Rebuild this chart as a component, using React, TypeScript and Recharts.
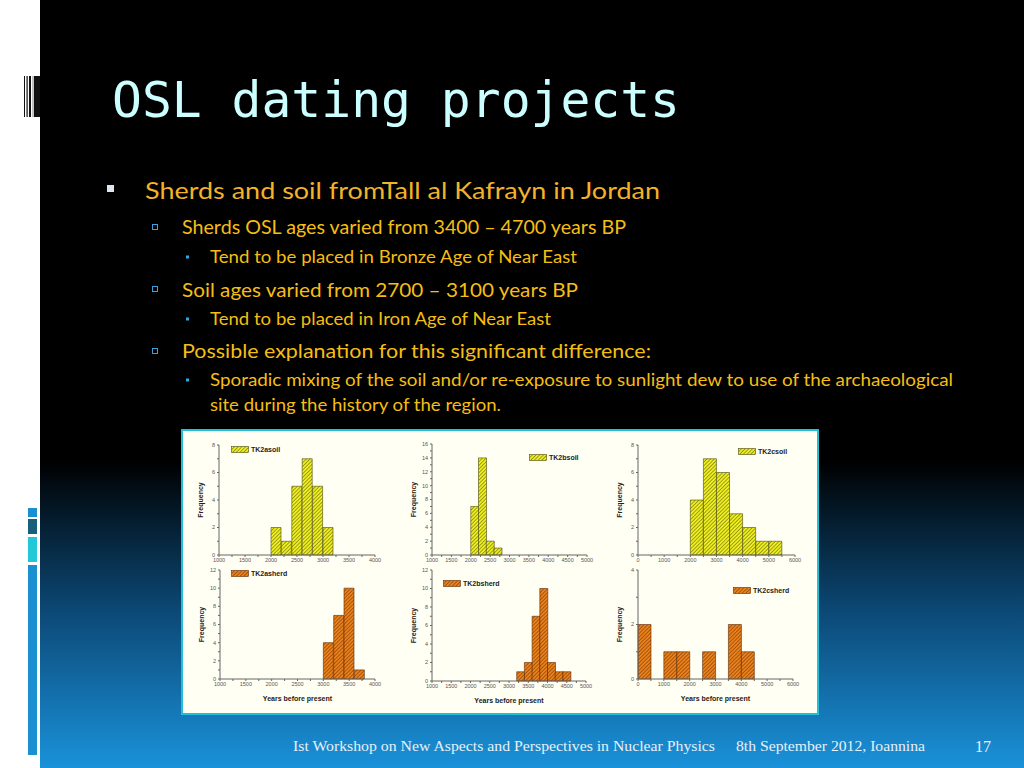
import React from 'react';
import { BarChart, Bar, XAxis, YAxis, Legend } from 'recharts';

// bin starts (years before present)
const bins200a = [1000, 1200, 1400, 1600, 1800, 2000, 2200, 2400, 2600, 2800, 3000, 3200, 3400, 3600, 3800];
const bins200b = [1000, 1200, 1400, 1600, 1800, 2000, 2200, 2400, 2600, 2800, 3000, 3200, 3400, 3600, 3800, 4000, 4200, 4400, 4600, 4800];
const bins500 = [0, 500, 1000, 1500, 2000, 2500, 3000, 3500, 4000, 4500, 5000, 5500];

// frequencies
const tk2aSoil = [0, 0, 0, 0, 0, 2, 1, 5, 7, 5, 2, 0, 0, 0, 0];
const tk2bSoil = [0, 0, 0, 0, 0, 7, 14, 2, 1, 0, 0, 0, 0, 0, 0, 0, 0, 0, 0, 0];
const tk2cSoil = [0, 0, 0, 0, 4, 7, 6, 3, 2, 1, 1, 0];
const tk2aSherd = [0, 0, 0, 0, 0, 0, 0, 0, 0, 0, 4, 7, 10, 1, 0];
const tk2bSherd = [0, 0, 0, 0, 0, 0, 0, 0, 0, 0, 0, 1, 2, 7, 10, 2, 1, 1, 0, 0];
const tk2cSherd = [2, 0, 1, 1, 0, 1, 0, 2, 1, 0, 0, 0];

// tick values
const xTicks1000to4000 = [1000, 1250, 1500, 1750, 2000, 2250, 2500, 2750, 3000, 3250, 3500, 3750, 4000];
const xTicks1000to5000 = [1000, 1250, 1500, 1750, 2000, 2250, 2500, 2750, 3000, 3250, 3500, 3750, 4000, 4250, 4500, 4750, 5000];
const xTicks0to6000 = [0, 500, 1000, 1500, 2000, 2500, 3000, 3500, 4000, 4500, 5000, 5500, 6000];
const yTicks8 = [0, 1, 2, 3, 4, 5, 6, 7, 8];
const yTicks16 = [0, 1, 2, 3, 4, 5, 6, 7, 8, 9, 10, 11, 12, 13, 14, 15, 16];
const yTicks12 = [0, 1, 2, 3, 4, 5, 6, 7, 8, 9, 10, 11, 12];
const yTicks4 = [0, 1, 2, 3, 4];

const SOIL = { pattern: 'hatchYellow', stroke: '#4a4a10' };
const SHERD = { pattern: 'hatchOrange', stroke: '#5a2a08' };

const panels = [
  { name: 'TK2asoil', bins: bins200a, counts: tk2aSoil, xDomain: [1000, 4000], xTicks: xTicks1000to4000, xStep: 500, yMax: 8, yTicks: yTicks8, style: SOIL, plot: [219, 445, 375, 555], legend: [231, 446], bottom: false },
  { name: 'TK2bsoil', bins: bins200b, counts: tk2bSoil, xDomain: [1000, 5000], xTicks: xTicks1000to5000, xStep: 500, yMax: 16, yTicks: yTicks16, style: SOIL, plot: [432, 444, 587, 555], legend: [529, 454], bottom: false },
  { name: 'TK2csoil', bins: bins500, counts: tk2cSoil, xDomain: [0, 6000], xTicks: xTicks0to6000, xStep: 1000, yMax: 8, yTicks: yTicks8, style: SOIL, plot: [638, 445, 795, 555], legend: [738, 448], bottom: false },
  { name: 'TK2asherd', bins: bins200a, counts: tk2aSherd, xDomain: [1000, 4000], xTicks: xTicks1000to4000, xStep: 500, yMax: 12, yTicks: yTicks12, style: SHERD, plot: [220, 570, 375, 679], legend: [231, 570], bottom: true },
  { name: 'TK2bsherd', bins: bins200b, counts: tk2bSherd, xDomain: [1000, 5000], xTicks: xTicks1000to5000, xStep: 500, yMax: 12, yTicks: yTicks12, style: SHERD, plot: [432, 570, 586, 681], legend: [443, 580], bottom: true },
  { name: 'TK2csherd', bins: bins500, counts: tk2cSherd, xDomain: [0, 6000], xTicks: xTicks0to6000, xStep: 1000, yMax: 4, yTicks: yTicks4, style: SHERD, plot: [638, 570, 793, 679], legend: [733, 587], bottom: true },
];

const AXIS_FONT = 'Liberation Sans, Arial, sans-serif';

function Histogram({ p }: { p: any }) {
  const axisH = p.bottom ? 26 : 14;
  const x = p.plot[0] - 33;
  const y = p.plot[1] - 6;
  const w = p.plot[2] + 14 - x;
  const h = p.plot[3] + axisH - y;
  const data = p.bins.map((b: number, i: number) => ({ bin: String(b), start: b, count: p.counts[i] }));
  return (
    <div style={{ position: 'absolute', left: x, top: y }}>
      <BarChart width={w} height={h} data={data} margin={{ top: 6, right: 14, left: 4, bottom: 0 }} barCategoryGap={0} barGap={0}>
        <XAxis
          xAxisId="num"
          dataKey="start"
          type="number"
          domain={p.xDomain}
          ticks={p.xTicks}
          interval={0}
          allowDataOverflow
          height={axisH}
          tickSize={2}
          tickMargin={1}
          stroke="#666"
          tick={{ fontSize: 5.5, fill: '#555', fontFamily: AXIS_FONT }}
          tickFormatter={(v: number) => (v % p.xStep === 0 ? String(v) : '')}
          label={p.bottom ? { value: 'Years before present', position: 'insideBottom', offset: 4, style: { fontSize: 7, fontWeight: 'bold', fill: '#222', fontFamily: AXIS_FONT } } : undefined}
        />
        <XAxis xAxisId="bins" dataKey="bin" hide height={0} />
        <YAxis
          domain={[0, p.yMax]}
          ticks={p.yTicks}
          interval={0}
          width={29}
          tickSize={2}
          tickMargin={2}
          stroke="#666"
          tick={{ fontSize: 5.5, fill: '#555', fontFamily: AXIS_FONT }}
          tickFormatter={(v: number) => (v % 2 === 0 ? String(v) : '')}
          label={{ value: 'Frequency', angle: -90, position: 'insideLeft', offset: 11, style: { textAnchor: 'middle', fontSize: 7, fontWeight: 'bold', fill: '#222', fontFamily: AXIS_FONT } }}
        />
        <Legend
          layout="vertical"
          verticalAlign="middle"
          align="center"
          wrapperStyle={{ left: p.legend[0] - x, top: p.legend[1] - y, width: 'auto', height: 'auto', lineHeight: 1 }}
          content={(props: any) => (
            <div style={{ display: 'flex', alignItems: 'center' }}>
              <svg width={18} height={7} style={{ display: 'block' }}>
                <rect x={0.5} y={0.5} width={17} height={6} fill={`url(#${p.style.pattern})`} stroke={p.style.stroke} strokeWidth={0.6} />
              </svg>
              <span style={{ marginLeft: 2, fontSize: 7, fontWeight: 'bold', color: '#222', fontFamily: AXIS_FONT }}>
                {props.payload && props.payload[0] ? props.payload[0].value : p.name}
              </span>
            </div>
          )}
        />
        <Bar xAxisId="bins" dataKey="count" name={p.name} fill={`url(#${p.style.pattern})`} stroke={p.style.stroke} strokeWidth={0.6} isAnimationActive={false} />
      </BarChart>
    </div>
  );
}

const TEXT = 'Lato, "Noto Sans", sans-serif';
const gold = '#f5be14';

export default function App() {
  return (
    <div style={{ position: 'absolute', left: 0, top: 0, width: 1024, height: 768, overflow: 'hidden', background: '#fff' }}>
      <svg width={1024} height={768} style={{ position: 'absolute', left: 0, top: 0 }}>
        <defs>
          <linearGradient id="bg" x1="0" y1="0" x2="0" y2="1">
            <stop offset="0" stopColor="#000" />
            <stop offset="0.6" stopColor="#000" />
            <stop offset="0.8" stopColor="#0c4a78" />
            <stop offset="1" stopColor="#1a92da" />
          </linearGradient>
          <pattern id="hatchYellow" width={2.6} height={2.6} patternUnits="userSpaceOnUse" patternTransform="rotate(45)">
            <rect width={2.6} height={2.6} fill="#eeee22" />
            <rect width={0.8} height={2.6} fill="#8c8c10" />
          </pattern>
          <pattern id="hatchOrange" width={2.6} height={2.6} patternUnits="userSpaceOnUse" patternTransform="rotate(45)">
            <rect width={2.6} height={2.6} fill="#e8821c" />
            <rect width={0.8} height={2.6} fill="#a04a08" />
          </pattern>
        </defs>
        <rect x={40} y={0} width={984} height={768} fill="url(#bg)" />
        {/* barcode marks by title */}
        <rect x={24} y={76} width={1} height={41} fill="#111" />
        <rect x={26.5} y={76} width={1.2} height={41} fill="#111" />
        <rect x={29} y={76} width={2} height={41} fill="#111" />
        <rect x={32.5} y={76} width={1} height={41} fill="#888" />
        <rect x={34} y={76} width={6} height={41} fill="#111" />
        {/* side bars */}
        <rect x={28} y={508} width={9} height={9} fill="#1a8fd0" />
        <rect x={28} y={519} width={9} height={15} fill="#1a5f7a" />
        <rect x={28} y={537} width={9} height={25} fill="#22c8d8" />
        <rect x={28} y={565} width={9} height={190} fill="#1a90d0" />

        <text x={112} y={117} fontFamily='"DejaVu Sans Mono", monospace' fontSize={50} fill="#ccffff" textLength={568} lengthAdjust="spacingAndGlyphs">OSL dating projects</text>

        <rect x={107} y={185} width={7} height={7} fill="#dde6ee" />
        <text x={145} y={199} fontFamily={TEXT} fontSize={24} fill="#f2b22a" textLength={515} lengthAdjust="spacingAndGlyphs">Sherds and soil fromTall al Kafrayn in Jordan</text>

        <rect x={152.5} y={224.5} width={5} height={5} fill="none" stroke="#3aa0e0" strokeWidth={1} />
        <text x={182} y={234} fontFamily={TEXT} fontSize={20} fill={gold} textLength={444} lengthAdjust="spacingAndGlyphs">Sherds OSL ages varied from 3400 – 4700 years BP</text>
        <rect x={186} y={255.5} width={3} height={3} fill="#30a8e0" />
        <text x={210} y={263} fontFamily={TEXT} fontSize={17} fill={gold} textLength={367} lengthAdjust="spacingAndGlyphs">Tend to be placed in Bronze Age of Near East</text>

        <rect x={152.5} y={286.5} width={5} height={5} fill="none" stroke="#3aa0e0" strokeWidth={1} />
        <text x={182} y={297} fontFamily={TEXT} fontSize={20} fill={gold} textLength={396} lengthAdjust="spacingAndGlyphs">Soil ages varied from 2700 – 3100 years BP</text>
        <rect x={186} y={317.5} width={3} height={3} fill="#30a8e0" />
        <text x={210} y={325} fontFamily={TEXT} fontSize={17} fill={gold} textLength={341} lengthAdjust="spacingAndGlyphs">Tend to be placed in Iron Age of Near East</text>

        <rect x={152.5} y={348.5} width={5} height={5} fill="none" stroke="#3aa0e0" strokeWidth={1} />
        <text x={182} y={358} fontFamily={TEXT} fontSize={20} fill={gold} textLength={469} lengthAdjust="spacingAndGlyphs">Possible explanation for this significant difference:</text>
        <rect x={186} y={378.5} width={3} height={3} fill="#30a8e0" />
        <text x={210} y={386} fontFamily={TEXT} fontSize={17} fill={gold} textLength={743} lengthAdjust="spacingAndGlyphs">Sporadic  mixing of the soil  and/or re-exposure to sunlight dew to use of the archaeological</text>
        <text x={210} y={411} fontFamily={TEXT} fontSize={17} fill={gold} textLength={291} lengthAdjust="spacingAndGlyphs">site during the history of the region.</text>

        <rect x={182} y={430} width={636} height={284} fill="#fffff4" stroke="#22c0d6" strokeWidth={2} />

        <text x={293} y={751} fontFamily='"Liberation Serif", serif' fontSize={14} fill="#e8f0f8" textLength={422} lengthAdjust="spacingAndGlyphs">Ist Workshop on New Aspects and Perspectives in Nuclear Physics</text>
        <text x={736} y={751} fontFamily='"Liberation Serif", serif' fontSize={14} fill="#e8f0f8" textLength={189} lengthAdjust="spacingAndGlyphs">8th September 2012, Ioannina</text>
        <text x={975} y={752} fontFamily='"Liberation Serif", serif' fontSize={16} fill="#e8f0f8">17</text>
      </svg>
      {panels.map((p) => (
        <Histogram key={p.name} p={p} />
      ))}
    </div>
  );
}
